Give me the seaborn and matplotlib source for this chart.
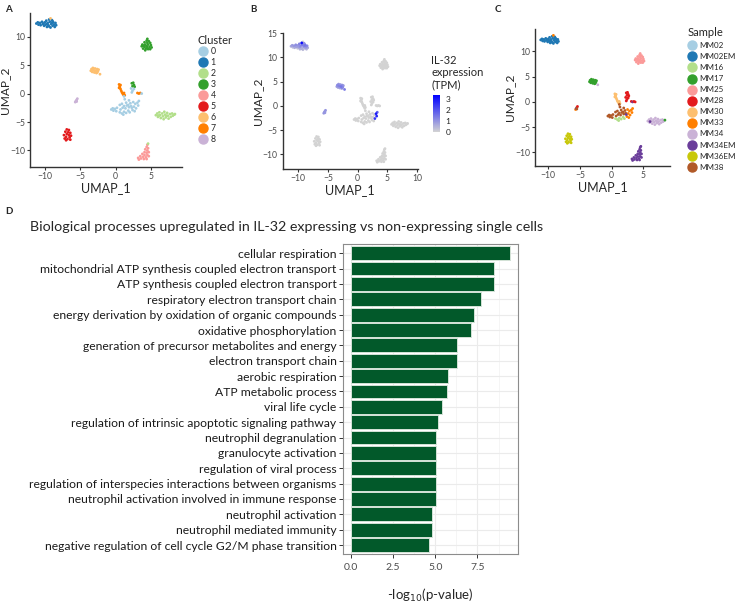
import numpy as np
import pandas as pd
import matplotlib
matplotlib.use("Agg")
import matplotlib.pyplot as plt
import seaborn as sns
from matplotlib.colors import LinearSegmentedColormap, Normalize
from matplotlib.lines import Line2D
from matplotlib.cm import ScalarMappable

# ---- UMAP cells: coordinates, cluster, sample, IL-32 expression ----
# cluster 1 / MM02EM
c1_x = [-11.2, -11.0, -10.9, -10.7, -10.6, -10.4, -10.3, -10.1, -10.0, -9.9, -9.8, -9.7, -9.6, -9.5, -9.4,
        -9.3, -9.2, -9.1, -9.0, -8.9, -8.8, -8.7, -8.6, -8.5, -8.4, -9.7, -10.2, -9.0, -9.4, -8.9]
c1_y = [12.3, 12.5, 12.1, 12.4, 12.0, 12.6, 12.2, 11.9, 12.5, 12.1, 12.8, 11.7, 12.4, 12.0, 13.0,
        12.6, 11.6, 12.2, 12.9, 11.9, 12.5, 12.1, 11.7, 12.4, 12.0, 12.2, 12.3, 12.4, 11.8, 12.7]
c1_il32 = [0.7, 0.9, 0.4, 1.0, 0.6, 1.1, 0.8, 0.3, 1.0, 0.8, 1.3, 0.5, 1.2, 0.6, 3.2,
           1.4, 0.4, 0.9, 1.1, 0.6, 1.5, 1.0, 0.5, 1.2, 0.7, 1.0, 0.8, 1.3, 0.6, 1.0]

# cluster 3 / MM25
c3_x = [4.5, 4.4, 4.7, 4.1, 4.5, 4.9, 3.8, 4.2, 4.6, 5.0, 3.7, 4.1, 4.4, 4.8, 5.1, 3.9, 4.3, 4.6, 4.9, 4.2, 4.5, 4.0]
c3_y = [9.6, 9.3, 9.2, 9.0, 8.9, 8.9, 8.6, 8.6, 8.6, 8.5, 8.3, 8.2, 8.3, 8.2, 8.1, 7.9, 7.9, 7.8, 7.8, 7.6, 8.0, 8.4]

# cluster 6 / MM17
c6_x = [-3.5, -3.4, -3.3, -3.2, -3.1, -3.0, -2.9, -2.8, -2.7, -2.6, -2.5, -2.4, -3.3, -2.9, -2.6]
c6_y = [4.0, 4.3, 3.8, 4.5, 4.1, 3.7, 4.4, 4.0, 3.6, 4.3, 3.9, 4.2, 4.1, 3.8, 3.7]
c6_il32 = [0.9, 1.2, 0.7, 1.0, 1.3, 0.8, 1.0, 1.5, 0.6, 1.1, 1.2, 0.9, 1.0, 0.8, 1.2]

# cluster 8 (mixed samples)
c8_x = [-5.7, -5.6, -5.5, -5.4, -5.5]
c8_y = [-1.5, -1.3, -1.1, -0.9, -1.4]
c8_sample = ["MM33", "MM34EM", "MM38", "MM28", "MM38"]

# cluster 7 strand / MM30
c7_x = [0.5, 0.6, 0.5, 0.7, 0.8, 0.9, 1.0, 1.1, 1.3, 1.2, 0.6, 0.7]
c7_y = [1.6, 1.3, 1.0, 0.8, 0.5, 0.2, 0.0, -0.2, -0.3, 0.1, 1.1, 1.5]

# small MM28 group (clusters 3 / 0 / 7)
g28_x = [2.3, 2.5, 2.6, 2.4, 2.7, 2.2, 2.4, 2.6, 2.3, 3.1, 3.3, 3.5, 3.7]
g28_y = [1.8, 1.9, 1.5, 1.3, 1.2, 0.9, 0.5, 0.8, 0.2, 0.1, 0.0, 0.1, 0.0]
g28_cluster = ["3", "3", "3", "3", "3", "0", "0", "0", "0", "7", "7", "7", "0"]
g28_sample = ["MM28"] * 9 + ["MM28", "MM34EM", "MM28", "MM28"]

# cluster 0 main mass
c0_x = [-0.6, -0.4, -0.3, -0.1, 0.1, 0.2,
        0.6, 0.9, 1.2, 1.5, 1.8, 2.1, 1.0, 1.4, 0.7, 1.9, 2.2, 1.6, 1.3, 1.9, 1.2,
        2.5, 2.8, 3.1, 2.6, 2.9, 3.2, 2.4, 2.7, 3.3,
        0.6, 0.9, 1.2, 1.5, 1.8, 1.1, 2.0, 2.3]
c0_y = [-2.8, -2.6, -3.0, -2.7, -3.1, -2.5,
        -2.0, -1.8, -2.2, -1.6, -2.0, -1.7, -2.5, -2.6, -2.8, -2.4, -2.2, -2.1, -1.0, -1.2, -0.5,
        -1.5, -1.8, -1.6, -2.3, -2.6, -2.1, -2.9, -3.1, -1.3,
        -3.3, -3.5, -3.2, -3.4, -3.0, -3.7, -3.3, -2.5]
c0_sample = ["MM38"] * 21 + ["MM33"] * 9 + ["MM16"] * 7 + ["MM34EM"]
c0_il32 = [0] * 21 + [0, 0, 3.0, 0, 2.5, 2.8, 0, 0, 1.9] + [0] * 8

# cluster 2 / MM34
c2_x = [5.7, 5.9, 6.0, 6.2, 6.3, 6.4, 6.6, 6.7, 6.8, 6.9, 7.0, 7.1, 7.3, 7.4, 7.5, 7.7, 7.8, 8.0, 8.1, 8.3, 6.1, 7.2,
        6.05, 8.4]
c2_y = [-3.8, -3.5, -4.1, -3.3, -3.8, -4.3, -3.5, -4.0, -4.5, -3.2, -3.7, -4.2, -3.4, -3.9, -4.4, -3.6, -4.1, -3.5,
        -3.9, -3.7, -3.9, -3.9, -3.9, -3.6]
c2_sample = ["MM34"] * 22 + ["MM34EM", "MM17"]

# cluster 5 / MM36EM
c5_x = [-6.9, -6.6, -7.1, -6.7, -6.4, -6.9, -7.3, -6.6, -7.0, -6.5, -7.2, -6.8, -6.4, -7.0, -6.3]
c5_y = [-6.3, -6.4, -6.7, -6.8, -6.9, -7.1, -7.3, -7.3, -7.6, -7.7, -7.9, -8.0, -8.1, -8.2, -7.4]

# cluster 4 / MM34EM
c4_x = [4.5, 4.4, 4.6, 4.2, 4.5, 4.1, 4.4, 4.7, 3.8, 4.1, 4.5, 3.5, 3.9, 4.3, 4.7, 3.2, 3.6, 4.0, 4.4, 3.3]
c4_y = [-9.0, -9.4, -9.6, -9.8, -10.0, -10.3, -10.4, -10.3, -10.6, -10.8, -10.8, -11.0, -11.1, -11.2, -11.0,
        -11.3, -11.4, -11.5, -11.5, -11.6]

# stray cells
stray_x = [-9.2, -2.2, 4.6]
stray_y = [13.2, 3.4, -8.8]
stray_cluster = ["6", "6", "2"]
stray_sample = ["MM33", "MM34", "MM34EM"]
stray_il32 = [0.0, 1.4, 0.0]

cluster_levels = ["0", "1", "2", "3", "4", "5", "6", "7", "8"]
sample_levels = ["MM02", "MM02EM", "MM16", "MM17", "MM25", "MM28", "MM30", "MM33",
                 "MM34", "MM34EM", "MM36EM", "MM38"]
paired = ["#A6CEE3", "#1F78B4", "#B2DF8A", "#33A02C", "#FB9A99", "#E31A1C",
          "#FDBF6F", "#FF7F00", "#CAB2D6", "#6A3D9A", "#C8C80A", "#B15928"]

# ---- GO enrichment ----
go_terms = [
    "cellular respiration",
    "mitochondrial ATP synthesis coupled electron transport",
    "ATP synthesis coupled electron transport",
    "respiratory electron transport chain",
    "energy derivation by oxidation of organic compounds",
    "oxidative phosphorylation",
    "generation of precursor metabolites and energy",
    "electron transport chain",
    "aerobic respiration",
    "ATP metabolic process",
    "viral life cycle",
    "regulation of intrinsic apoptotic signaling pathway",
    "neutrophil degranulation",
    "granulocyte activation",
    "regulation of viral process",
    "regulation of interspecies interactions between organisms",
    "neutrophil activation involved in immune response",
    "neutrophil activation",
    "neutrophil mediated immunity",
    "negative regulation of cell cycle G2/M phase transition",
]
go_score = [9.45, 8.47, 8.47, 7.70, 7.31, 7.11, 6.27, 6.27, 5.76, 5.72,
            5.38, 5.19, 5.03, 5.03, 5.03, 5.03, 5.03, 4.83, 4.81, 4.62]

# ---- assemble table ----
rows = []
def add(xs, ys, cl, sm, ex):
    for i in range(len(xs)):
        rows.append(dict(x=xs[i], y=ys[i],
                         cluster=cl[i] if isinstance(cl, list) else cl,
                         sample=sm[i] if isinstance(sm, list) else sm,
                         il32=ex[i] if isinstance(ex, list) else ex))

add(c1_x, c1_y, "1", "MM02EM", c1_il32)
add(c3_x, c3_y, "3", "MM25", 0.0)
add(c6_x, c6_y, "6", "MM17", c6_il32)
add(c8_x, c8_y, "8", c8_sample, 1.0)
add(c7_x, c7_y, "7", "MM30", 0.0)
add(g28_x, g28_y, g28_cluster, g28_sample, 0.0)
add(c0_x, c0_y, "0", c0_sample, c0_il32)
add(c2_x, c2_y, "2", c2_sample, 0.0)
add(c5_x, c5_y, "5", "MM36EM", 0.0)
add(c4_x, c4_y, "4", "MM34EM", 0.0)
add(stray_x, stray_y, stray_cluster, stray_sample, stray_il32)
cells = pd.DataFrame(rows)

sns.set_theme(style="white")
plt.rcParams["font.family"] = ["Lato", "DejaVu Sans"]

fig = plt.figure(figsize=(7.4, 6.06), dpi=100)

def px(l, t, r, b):
    return [l / 740, 1 - b / 606, (r - l) / 740, (b - t) / 606]

def umap_axes(ax, xlim, ylim, xt, yt):
    ax.set_xlim(*xlim)
    ax.set_ylim(*ylim)
    ax.set_xticks(xt)
    ax.set_yticks(yt)
    ax.set_xticklabels([str(v).replace("-", "\u2212") for v in xt])
    ax.set_yticklabels([str(v).replace("-", "\u2212") for v in yt])
    for s in ["top", "right"]:
        ax.spines[s].set_visible(False)
    for s in ["left", "bottom"]:
        ax.spines[s].set_color("#333333")
        ax.spines[s].set_linewidth(1.0)
    ax.tick_params(axis="both", length=2.5, width=0.8, color="#333333", labelsize=6.2,
                   labelcolor="#4D4D4D", pad=1.2, left=True, bottom=True)
    ax.set_xlabel("UMAP_1", fontsize=9, labelpad=1)
    ax.set_ylabel("UMAP_2", fontsize=8.6, labelpad=-0.5)

# ---- A ----
axa = fig.add_axes(px(30, 12.7, 182, 167))
sns.scatterplot(data=cells, x="x", y="y", hue="cluster", hue_order=cluster_levels,
                palette=paired[:9], s=4, linewidth=0, legend=False, ax=axa)
umap_axes(axa, (-12.1, 9.4), (-12.9, 14.2), [-10, -5, 0, 5], [-10, -5, 0, 5, 10])
h_a = [Line2D([], [], marker="o", ls="", color=c, markersize=6.5) for c in paired[:9]]
leg = axa.legend(h_a, cluster_levels, title="Cluster", loc="upper left",
                 bbox_to_anchor=(194 / 740, 1 - 31 / 606), bbox_transform=fig.transFigure,
                 frameon=False, fontsize=6.3, title_fontsize=8, handletextpad=0.3,
                 labelspacing=0.22, handlelength=1.2, borderaxespad=0)
leg._legend_box.align = "left"

# ---- B ----
axb = fig.add_axes(px(282.7, 32.7, 417.7, 169))
cmap = LinearSegmentedColormap.from_list("il32", ["#D3D3D3", "#0000FF"])
cells_b = cells.sort_values("il32")
sns.scatterplot(data=cells_b, x="x", y="y", hue="il32", palette=cmap, hue_norm=(0, 3.4),
                s=4, linewidth=0, legend=False, ax=axb)
umap_axes(axb, (-12.6, 10.1), (-13.0, 15.1), [-10, -5, 0, 5, 10], [-10, -5, 0, 5, 10, 15])
cax = fig.add_axes(px(433, 95, 440, 132))
cb = fig.colorbar(ScalarMappable(Normalize(0, 3.4), cmap), cax=cax, ticks=[0, 1, 2, 3])
cb.outline.set_visible(False)
cax.tick_params(labelsize=6, length=2, color="white", labelcolor="#222222", pad=2)
fig.text(431 / 740, 1 - 55 / 606, "IL-32\nexpression\n(TPM)", fontsize=8, va="top",
         ha="left", linespacing=1.1)

# ---- C ----
axc = fig.add_axes(px(535, 29.3, 670, 166))
sns.scatterplot(data=cells, x="x", y="y", hue="sample", hue_order=sample_levels,
                palette=paired, s=4, linewidth=0, legend=False, ax=axc)
umap_axes(axc, (-12.1, 9.2), (-12.7, 14.4), [-10, -5, 0, 5], [-10, -5, 0, 5, 10])
h_c = [Line2D([], [], marker="o", ls="", color=c, markersize=6.5) for c in paired]
leg = axc.legend(h_c, sample_levels, title="Sample", loc="upper left",
                 bbox_to_anchor=(684 / 740, 1 - 24 / 606), bbox_transform=fig.transFigure,
                 frameon=False, fontsize=5.8, title_fontsize=8, handletextpad=0.3,
                 labelspacing=0.5, handlelength=1.2, borderaxespad=0)
leg._legend_box.align = "left"

# ---- D ----
axd = fig.add_axes(px(342.7, 244, 518.3, 554.3))
go = pd.DataFrame({"term": go_terms, "score": go_score})
sns.barplot(data=go, x="score", y="term", color="#02592A", saturation=1, width=0.9,
            edgecolor="#D5E3D8", linewidth=0.7, ax=axd, zorder=3)
axd.set_xlim(-0.47, 9.92)
axd.set_ylim(len(go_terms) - 1 + 0.6, -0.6)
axd.set_xticks([0, 2.5, 5.0, 7.5])
axd.set_xticklabels(["0.0", "2.5", "5.0", "7.5"])
axd.set_xticks([1.25, 3.75, 6.25, 8.75], minor=True)
axd.grid(True, which="major", color="#EBEBEB", lw=0.8, zorder=0)
axd.grid(True, which="minor", axis="x", color="#F2F2F2", lw=0.5, zorder=0)
axd.set_axisbelow(True)
for s in axd.spines.values():
    s.set_color("#8C8C8C")
    s.set_linewidth(0.8)
axd.tick_params(axis="both", which="major", length=3, width=0.7, color="#333333",
                left=True, bottom=True)
axd.tick_params(axis="both", which="minor", length=0)
axd.tick_params(axis="y", labelsize=8.7, labelcolor="#1A1A1A", pad=1.5)
axd.tick_params(axis="x", labelsize=7.5, labelcolor="#4D4D4D", pad=3)
axd.set_ylabel("")
axd.set_xlabel("-log$_{10}$(p-value)", fontsize=9.5, labelpad=11)
fig.text(30 / 740, 1 - 227 / 606, "Biological processes upregulated in IL-32 expressing vs non-expressing single cells",
         fontsize=10.3, va="center", ha="left")

# panel letters
for lab, x, y in [("A", 5, 10), ("B", 250, 10), ("C", 495, 10), ("D", 5, 212)]:
    fig.text(x / 740, 1 - y / 606, lab, fontsize=7, fontweight="bold", va="center", ha="left")

fig.savefig("out.png", dpi=100)
